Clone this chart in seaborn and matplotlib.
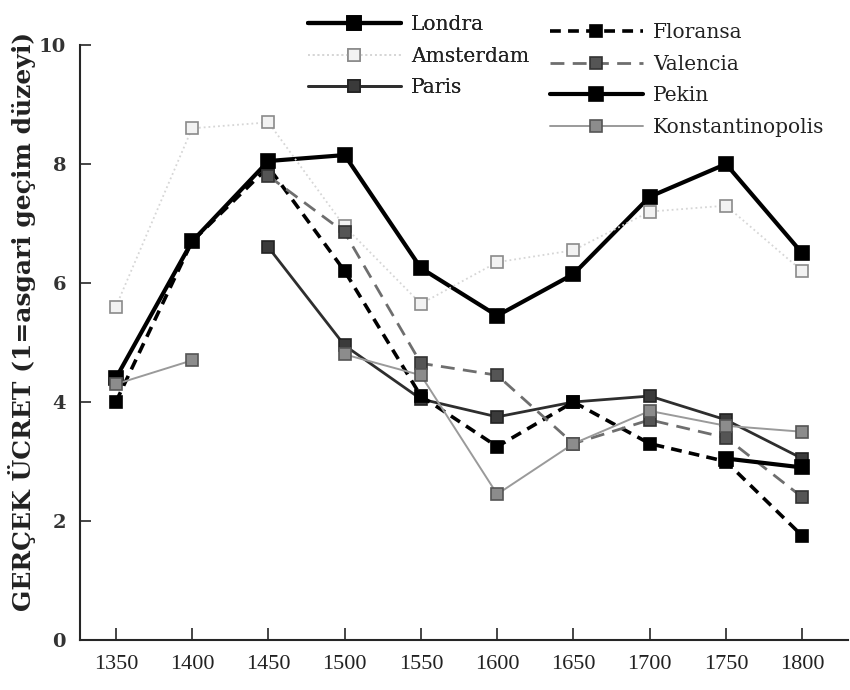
import numpy as np
import pandas as pd
import seaborn as sns
import matplotlib.pyplot as plt
from matplotlib.lines import Line2D

years = [1350, 1400, 1450, 1500, 1550, 1600, 1650, 1700, 1750, 1800]
nan = np.nan

londra = [4.4, 6.7, 8.05, 8.15, 6.25, 5.45, 6.15, 7.45, 8.0, 6.5]
amsterdam = [5.6, 8.6, 8.7, 6.95, 5.65, 6.35, 6.55, 7.2, 7.3, 6.2]
paris = [nan, nan, 6.6, 4.95, 4.05, 3.75, 4.0, 4.1, 3.7, 3.05]
floransa = [4.0, 6.7, 7.95, 6.2, 4.1, 3.25, 4.0, 3.3, 3.0, 1.75]
valencia = [nan, nan, 7.8, 6.85, 4.65, 4.45, 3.3, 3.7, 3.4, 2.4]
pekin = [nan, nan, nan, nan, nan, nan, nan, nan, 3.05, 2.9]
konst = [4.3, 4.7, nan, 4.8, 4.45, 2.45, 3.3, 3.85, 3.6, 3.5]

# name, values, line colour, width, dash, marker face, marker edge, marker size
styles = [
    ('Londra', londra, 'black', 3.0, '-', 'black', 'black', 10),
    ('Amsterdam', amsterdam, '#d6d6d6', 1.3, ':', '#f2f2f2', '#8a8a8a', 8.5),
    ('Paris', paris, '#2e2e2e', 2.0, '-', '#3a3a3a', '#222222', 9),
    ('Floransa', floransa, 'black', 2.6, (0, (3, 2)), 'black', 'black', 9),
    ('Valencia', valencia, '#6e6e6e', 2.0, (0, (5, 3)), '#555555', '#333333', 9),
    ('Pekin', pekin, 'black', 3.0, '-', 'black', 'black', 10),
    ('Konstantinopolis', konst, '#9a9a9a', 1.4, '-', '#8c8c8c', '#555555', 8.5),
]

sns.set_style('ticks')
plt.rcParams['font.family'] = ['DejaVu Serif']

fig = plt.figure(figsize=(8.5, 6.9), dpi=100)
ax = fig.add_axes([80 / 850, 50 / 690, 768 / 850, 595 / 690])

for name, vals, col, lw, ls, mfc, mec, ms in styles:
    df = pd.DataFrame({'year': years, 'wage': vals})
    # split on gaps so missing years break the line
    df['seg'] = df['wage'].isna().cumsum()
    df = df.dropna()
    for _, part in df.groupby('seg'):
        sns.lineplot(data=part, x='year', y='wage', ax=ax, color=col,
                     linewidth=lw, linestyle=ls, marker='s', markersize=ms,
                     markerfacecolor=mfc, markeredgecolor=mec,
                     markeredgewidth=1.2, estimator=None, sort=False)

ax.set_xlim(1326.5, 1830)
ax.set_ylim(0, 10)
ax.set_xticks(years)
ax.set_yticks([0, 2, 4, 6, 8, 10])
ax.tick_params(axis='x', direction='in', length=9, width=1.2, labelsize=16,
               pad=11, labelfontfamily='Liberation Serif', labelcolor='#222222')
ax.tick_params(axis='y', direction='in', length=8, width=1.2, labelsize=14, pad=10)
for t in ax.get_yticklabels():
    t.set_fontweight('bold')
    t.set_color('#333333')
ax.set_xlabel('')
ax.set_ylabel('GERÇEK ÜCRET (1=asgari geçim düzeyi)', fontsize=18,
              fontweight='bold', color='#222222')
ax.yaxis.set_label_coords(-0.057, 0.535)
sns.despine(ax=ax)
ax.spines['left'].set_linewidth(1.5)
ax.spines['bottom'].set_linewidth(1.5)


def handle(s):
    name, vals, col, lw, ls, mfc, mec, ms = s
    return Line2D([], [], color=col, linewidth=lw, linestyle=ls, marker='s',
                  markersize=ms, markerfacecolor=mfc, markeredgecolor=mec,
                  markeredgewidth=1.2)


leg1 = fig.legend([handle(s) for s in styles[:3]], [s[0] for s in styles[:3]],
                  loc='upper left', bbox_to_anchor=(290 / 850, 1 + 3 / 690),
                  frameon=False, handlelength=4.6, numpoints=1, fontsize=14.5,
                  labelspacing=0.62, handletextpad=0.5, labelcolor='#222222')
leg2 = fig.legend([handle(s) for s in styles[3:]], [s[0] for s in styles[3:]],
                  loc='upper left', bbox_to_anchor=(532 / 850, 1 - 5 / 690),
                  frameon=False, handlelength=4.6, numpoints=1, fontsize=14.5,
                  labelspacing=0.62, handletextpad=0.5, labelcolor='#222222')
fig.add_artist(leg1)

fig.savefig('out.png', dpi=100)
